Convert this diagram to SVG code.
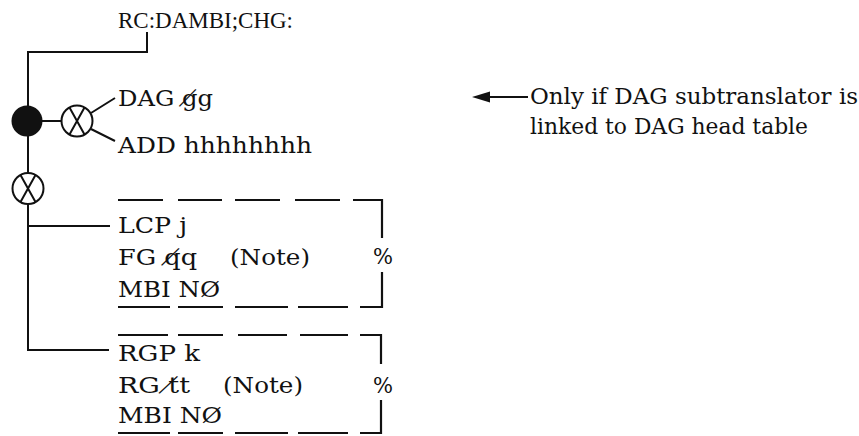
<svg xmlns="http://www.w3.org/2000/svg" width="859" height="436" viewBox="0 0 859 436">
<style>
text{font-family:"DejaVu Serif","Liberation Serif",serif;font-size:23px;fill:#111}
.ttl{font-family:"Liberation Serif","DejaVu Serif",serif;font-size:24px}
.ln{fill:none;stroke:#111;stroke-width:2}
.box{fill:none;stroke:#111;stroke-width:2.2}
</style>
<defs>
<g id="xc"><circle r="15.5" class="ln"/><path class="ln" d="M-7.5,-13.5 L7.5,13.5 M7.5,-13.5 L-7.5,13.5"/></g>
</defs>
<rect width="859" height="436" fill="#fff"/>
<g id="connectors">
<path class="ln" d="M147,32 V52 H28 V106"/>
<path class="ln" d="M42,121 H61"/>
<path class="ln" d="M91,113 L115,98 M91,129 L115,141"/>
<path class="ln" d="M28,136 V173"/>
<path class="ln" d="M28,204 V350 H109 M28,226 H110"/>
<path class="ln" d="M486,97 H528"/>
<polygon points="472,97 490,91.5 490,102.5" fill="#111"/>
</g>
<g id="title"><text class="ttl" x="118" y="28" textLength="175" lengthAdjust="spacingAndGlyphs">RC:DAMBI;CHG:</text></g>
<g id="dot"><circle cx="27" cy="121" r="15.5" fill="#111"/></g>
<g id="x1"><use href="#xc" x="77" y="121"/></g>
<g id="x2"><use href="#xc" x="28" y="188.5"/></g>
<g id="dag">
<text x="118" y="106" textLength="95" lengthAdjust="spacingAndGlyphs">DAG g̸g</text>
<text x="118" y="153" textLength="194" lengthAdjust="spacingAndGlyphs">ADD hhhhhhhh</text>
</g>
<g id="note">
<text x="530" y="104" textLength="328" lengthAdjust="spacingAndGlyphs">Only if DAG subtranslator is</text>
<text x="530" y="134" textLength="278" lengthAdjust="spacingAndGlyphs">linked to DAG head table</text>
</g>
<g id="box1">
<path class="box" d="M118,200 H163 M178,200 H222 M235,200 H280 M295,200 H340 M353,200 H382 V238 M382,272 V307 H360 M348,307 H298 M288,307 H235 M223,307 H178 M170,307 H118"/>
<text x="118" y="233" textLength="69" lengthAdjust="spacingAndGlyphs">LCP j</text>
<text x="118" y="265" textLength="79" lengthAdjust="spacingAndGlyphs">FG q̸q</text>
<text x="230" y="265" textLength="80" lengthAdjust="spacingAndGlyphs">(Note)</text>
<text x="118" y="297" textLength="102" lengthAdjust="spacingAndGlyphs">MBI NØ</text>
<text x="373" y="264" textLength="20" lengthAdjust="spacingAndGlyphs">%</text>
</g>
<g id="box2">
<path class="box" d="M118,335 H168 M178,335 H223 M238,335 H287 M300,335 H348 M360,335 H381 V364 M381,400 V433 H360 M348,433 H298 M288,433 H235 M223,433 H178 M170,433 H118"/>
<text x="118" y="361" textLength="82" lengthAdjust="spacingAndGlyphs">RGP k</text>
<text x="118" y="393" textLength="72" lengthAdjust="spacingAndGlyphs">RG t̸t</text>
<text x="223" y="393" textLength="80" lengthAdjust="spacingAndGlyphs">(Note)</text>
<text x="118" y="423" textLength="104" lengthAdjust="spacingAndGlyphs">MBI NØ</text>
<text x="373" y="393" textLength="20" lengthAdjust="spacingAndGlyphs">%</text>
</g>
</svg>
